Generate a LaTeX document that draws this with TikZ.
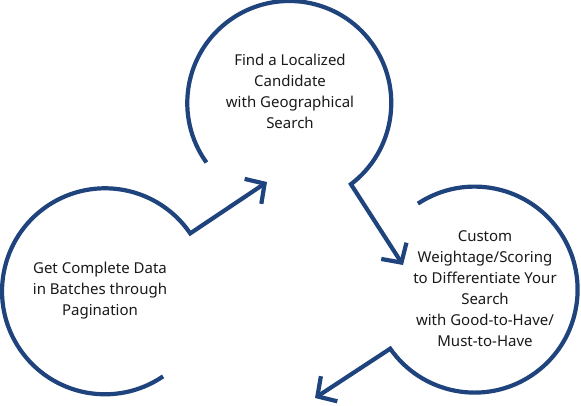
\documentclass[tikz,border=0pt]{standalone}
\usepackage{fontspec}
\setmainfont{Noto Sans}
\usetikzlibrary{arrows.meta}
\definecolor{ringblue}{RGB}{31,67,125}
\tikzset{
  ring/.style={shape=circle, inner sep=0pt, outer sep=0pt},
  ringline/.style={draw=ringblue, line width=4.2pt, line join=miter},
  flowarrow/.style={ringline, -{Straight Barb[length=14pt,width=30pt]}},
  label/.style={align=center, font=\fontsize{15}{21}\selectfont, text=black!90}
}
\begin{document}
\begin{tikzpicture}[x=1pt,y=1pt]
\useasboundingbox (0,0) rectangle (581,405);
% circles (invisible nodes carrying the geometry)
\node[ring, minimum size=204pt] (top) at (290,301) {};
\node[ring, minimum size=206pt] (left) at (104,113) {};
\node[ring, minimum size=206pt] (right) at (474,115) {};
% arrow tips
\coordinate (tipA) at (267,223);
\coordinate (tipB) at (403,140);
\coordinate (tipC) at (315,7);
% arcs continuing into arrows
\draw[flowarrow] (left.-55.7) arc[start angle=-55.7, end angle=-325.8, radius=103pt] -- (tipA);
\draw[flowarrow] (top.215.7) arc[start angle=215.7, end angle=-52.8, radius=102pt] -- (tipB);
\draw[flowarrow] (right.123.4) arc[start angle=123.4, end angle=-145, radius=103pt] -- (tipC);
% texts
\node[label] (ttop) at (290,314) {Find a Localized\\Candidate\\with Geographical\\Search};
\node[label] (tleft) at (100,114) {Get Complete Data\\in Batches through\\Pagination};
\node[label] (tright) at (485,116) {Custom\\Weightage/Scoring\\to Differentiate Your\\Search\\with Good-to-Have/\\Must-to-Have};
\end{tikzpicture}
\end{document}
